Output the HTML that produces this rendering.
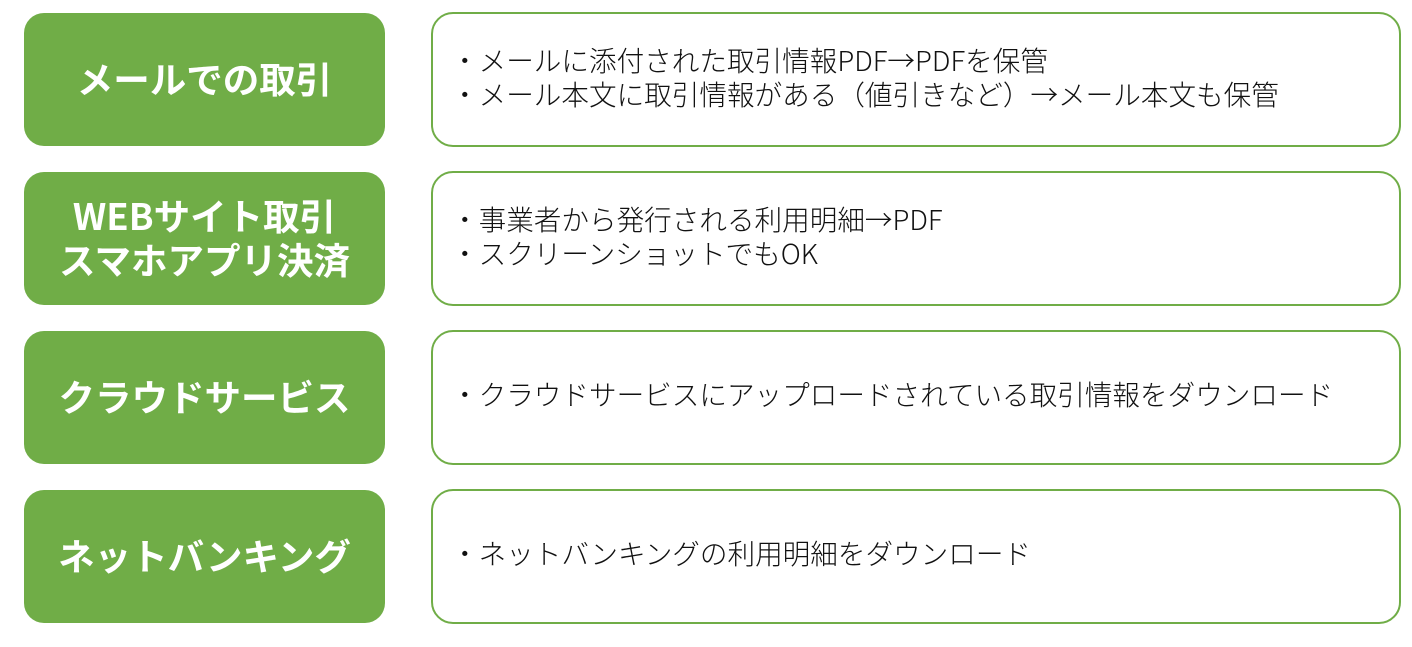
<!DOCTYPE html>
<html><head><meta charset="utf-8"><style>
body{margin:0;width:1412px;height:647px;background:#fff;position:relative;overflow:hidden;font-family:"Noto Sans CJK JP",sans-serif}
.l{position:absolute;left:24px;width:361px;height:133px;background:#70ad47;border-radius:20px;color:#fff;font-weight:bold;font-size:36.5px;display:flex;align-items:center;justify-content:center;text-align:center;line-height:44px;padding-bottom:3px;box-sizing:border-box}
.r{position:absolute;left:431px;width:966px;height:131px;border:2px solid #70ad47;border-radius:22px;font-size:27.6px;color:#111;line-height:34px}
.r div{position:absolute;left:18px;white-space:nowrap;font-weight:300}
</style></head><body>
<div class="l" style="top:13px">メールでの取引</div>
<div class="l" style="top:172px">WEBサイト取引<br>スマホアプリ決済</div>
<div class="l" style="top:331px">クラウドサービス</div>
<div class="l" style="top:490px">ネットバンキング</div>
<div class="r" style="top:12px"><div style="top:28px">・メールに添付された取引情報PDF→PDFを保管<br>・メール本文に取引情報がある（値引きなど）→メール本文も保管</div></div>
<div class="r" style="top:171px"><div style="top:28px">・事業者から発行される利用明細→PDF<br>・スクリーンショットでもOK</div></div>
<div class="r" style="top:330px"><div style="top:44px">・クラウドサービスにアップロードされている取引情報をダウンロード</div></div>
<div class="r" style="top:489px"><div style="top:44px">・ネットバンキングの利用明細をダウンロード</div></div>
</body></html>
